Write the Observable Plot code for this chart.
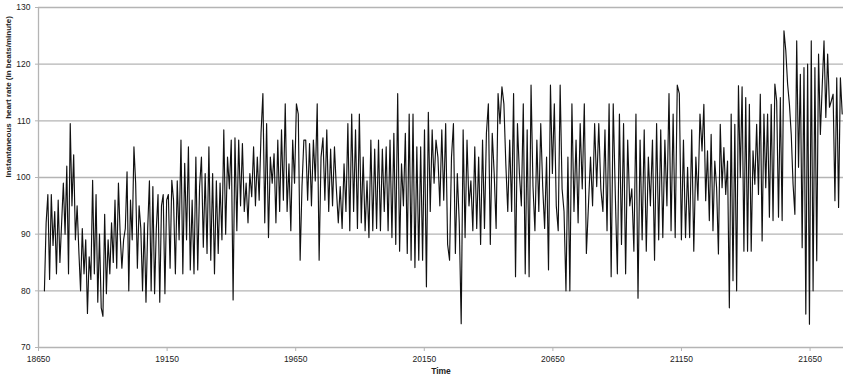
<!DOCTYPE html>
<html>
<head>
<meta charset="utf-8">
<script src="https://cdn.jsdelivr.net/npm/d3@7"></script>
<script src="https://cdn.jsdelivr.net/npm/@observablehq/plot@0.6"></script>
<style>
  html, body { margin: 0; padding: 0; background: #fff; }
</style>
</head>
<body>
<div id="chart"></div>
<script>
// Tick labels
const xTicks = [18650, 19150, 19650, 20150, 20650, 21150, 21650];
const yTicks = [70, 80, 90, 100, 110, 120, 130];

// Time span covered by each segment of the series
const segStart = [18673, 19175, 19689, 20203, 20716, 21230];
const segEnd   = [19175, 19689, 20203, 20716, 21230, 21775];

// Instantaneous heart rate values, segment by segment (beats/minute)
const seg1 = [80,92,97,82,97,88,94,83,96,85,92,99,90,102,83,109.5,95,104,89,95,87,80,91,83,89,76,86,82,99.5,83,97,78,90,77,75.5,93.5,79.5,89,83,92,85,96,84,99,90,84,89,91,101,80,96,89,105.4,99,84,95,91,80,92,78,91,99.4,80,98.4,79.5,91,97,78,95,97,79.5,96,97,84,99.5];
const seg2 = [96,83,99.4,89,106.6,83,102.5,89,105.4,83.7,96,83,103.6,83.7,98.4,103.6,87.7,100.7,86.6,105.4,85.4,100.7,83,99.4,86.6,99,89,108.4,90,103.6,98,106.6,78.4,107,90.6,106.6,95,106,94,99,92,100.7,96.6,105.4,95,103.6,96,107.8,114.8,92,109.5,89.4,103.6,99,104.2,92,106.6,94,108.4,96,113,94,102.4,90.6,106.6,99,113,111.2,85.4,98.4,106.6];
const seg3 = [106.6,96,106,95,106.6,99.4,113,85.4,103.6,107,96,108.4,94,105,95,105.4,98,92,98.4,91,102.4,94,109.5,90.6,111.2,94,108.4,91,111.2,92,103.6,90.6,99.4,89.4,106.6,90.6,105,91,106.6,90.6,105,94,105.4,90.6,106.6,89.4,107.8,88.2,114.8,87,102.4,95,107.8,86.6,111.2,85.4,111.2,84.1,105.4,85.4,105.4,85.4,108.4,80.7,111.5,94,108.4,99,106.6];
const seg4 = [103.6,95,108.4,96,109.5,88.2,85.4,103.6,109.5,86.6,100.7,92,74.2,108.4,89.4,106.6,95,99.4,90.6,105.4,91,103.6,88.2,106.6,91,107.8,113,88.2,107.8,100.7,91,114.8,109.5,116,113,102.4,94,106.6,94,114.8,82.5,109.5,100.7,95,113,83,108.4,82.5,116.3,98.4,90.6,106.6,94,109.5,98.4,91,103.6,83.7,116.3,100.7,113,95,90.6,116.3,98,94,80,103.6];
const seg5 = [80,113,94,106.6,92,109.5,98,113,86.6,95,103.6,95,109.5,98.4,109.5,98,94,108.4,90.6,113,82.5,113,97,83,111.2,88.2,109.5,83,106.6,95,98,87,111.2,78.7,106.6,89,108.4,87,103.6,95,106.6,85.4,109.5,89,108.4,89.4,106.6,95,114.8,90.6,111.2,89.4,116.3,114.8,89,106.6,89.4,101.8,89.4,108.4,87,103.6,96,111.2];
const seg6 = [104.7,112.9,95.9,104.7,92.4,107.6,90.6,102.9,98.2,86.5,109.4,98.2,105.3,97,102.9,77,111.2,81.8,109.4,80,116.2,100,116,87,114.1,87,112.9,87,104.7,98.8,109.4,97,114.7,88.8,111.2,98.2,111.2,93,112.9,92.4,116.5,113.5,93,114.1,92.4,125.9,122.4,116.5,112.9,107.6,98.8,93.5,124.1,101.8,118.2,87.6,119.4,75.9,120,74.1,124.1,80,119.4,85.3,121.8,107.6,116,124.1,110.6,121.8,112.4,113.5,114.7,95.9,117.6,94.7,117.6,111.2];

const segments = [seg1, seg2, seg3, seg4, seg5, seg6];
const data = [];
segments.forEach((seg, k) => {
  const n = seg.length;
  const span = segEnd[k] - segStart[k];
  const last = k === segments.length - 1;
  seg.forEach((v, i) => {
    const frac = last ? i / (n - 1) : i / n;
    data.push({t: segStart[k] + span * frac, v});
  });
});

const grid = "#b4b4b4";
const chart = Plot.plot({
  width: 851,
  height: 379,
  marginLeft: 38,
  marginRight: 8,
  marginTop: 7,
  marginBottom: 32,
  x: {domain: [18650, 21780]},
  y: {domain: [70, 130]},
  style: {fontFamily: "'Liberation Sans', Arial, sans-serif", fontSize: "8.5px", color: "#222", background: "#fff"},
  marks: [
    Plot.ruleY(yTicks, {stroke: grid, strokeWidth: 1.3}),
    Plot.ruleX([18650], {stroke: grid, strokeWidth: 1.3}),
    Plot.axisY({ticks: yTicks, tickSize: 3, tickPadding: 5, label: null, stroke: grid, fill: "#222"}),
    Plot.axisX({ticks: xTicks, tickSize: 4, tickPadding: 4, tickFormat: d => String(d), label: null, stroke: grid, fill: "#222"}),
    Plot.lineY(data, {x: "t", y: "v", stroke: "#111", strokeWidth: 1.15}),
    Plot.text(["Instantaneous  heart rate (in beats/minute)"], {frameAnchor: "left", dx: -30, rotate: -90, fontWeight: "bold", fontSize: 8, fill: "#222"}),
    Plot.text(["Time"], {frameAnchor: "bottom", dy: 26, fontWeight: "bold", fontSize: 8.5, fill: "#222"})
  ]
});
document.getElementById("chart").appendChild(chart);
</script>
</body>
</html>
